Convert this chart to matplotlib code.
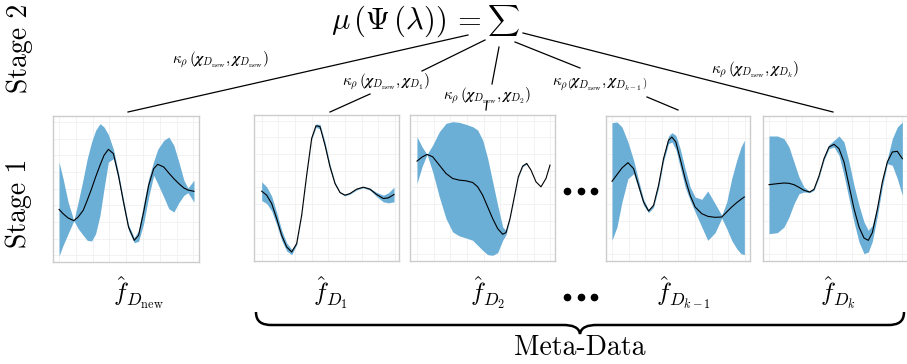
import matplotlib
matplotlib.use("Agg")
import matplotlib.pyplot as plt
from matplotlib.path import Path
from matplotlib.patches import PathPatch

plt.rcParams['mathtext.fontset'] = 'cm'

# ---------------- data ----------------
# Panel f_D_new
x_new = [28, 40, 55, 72, 85, 100, 112, 125, 137, 150, 162, 175, 190, 205, 220, 235, 252, 265, 280, 295, 310, 322, 340, 355, 370, 385, 400, 412, 430]
mean_new = [158, 145, 132, 124, 135, 155, 185, 220, 255, 290, 320, 338, 325, 260, 180, 105, 65, 80, 150, 230, 280, 293, 285, 267, 250, 235, 222, 216, 212]
upper_new = [300, 250, 180, 124, 180, 250, 310, 360, 395, 415, 405, 382, 338, 268, 188, 112, 73, 95, 175, 250, 302, 338, 365, 375, 350, 300, 245, 222, 245]
lower_new = [18, 50, 85, 124, 100, 80, 65, 63, 85, 140, 220, 300, 310, 245, 165, 95, 58, 62, 115, 195, 260, 235, 195, 160, 150, 178, 200, 208, 180]

# Panel f_D1
x_d1 = [35, 50, 65, 80, 95, 110, 125, 140, 155, 170, 185, 198, 210, 225, 240, 255, 270, 285, 300, 320, 340, 360, 380, 400, 415, 432]
mean_d1 = [209, 197, 172, 127, 77, 42, 27, 52, 137, 257, 367, 405, 402, 347, 282, 232, 205, 197, 202, 215, 221, 215, 199, 187, 189, 199]
upper_d1 = [237, 222, 194, 145, 92, 54, 35, 55, 139, 259, 370, 410, 409, 356, 289, 236, 207, 199, 204, 217, 223, 218, 205, 197, 204, 221]
lower_d1 = [181, 172, 150, 109, 62, 30, 19, 49, 135, 255, 364, 400, 395, 338, 275, 228, 203, 195, 200, 213, 219, 212, 193, 177, 174, 177]

# Panel f_D2
x_d2 = [33, 48, 63, 80, 100, 120, 140, 160, 180, 200, 215, 230, 245, 260, 275, 290, 300, 312, 325, 337, 350, 362, 375, 390, 405, 420, 432]
mean_d2 = [299, 311, 319, 312, 287, 262, 247, 242, 240, 235, 222, 197, 162, 127, 97, 80, 85, 127, 192, 252, 284, 292, 272, 237, 222, 247, 287]
upper_d2 = [372, 342, 319, 347, 387, 412, 417, 415, 409, 402, 392, 362, 307, 237, 167, 102, 91, 129, 194, 254, 286, 294, 272, 237, 222, 247, 287]
lower_d2 = [232, 282, 319, 267, 192, 127, 87, 75, 69, 62, 47, 32, 19, 17, 25, 62, 79, 125, 190, 250, 282, 290, 272, 237, 222, 247, 287]

# Panel f_D(k-1)
x_dk1 = [30, 45, 60, 78, 95, 110, 125, 140, 155, 170, 185, 200, 210, 222, 235, 250, 265, 280, 300, 318, 340, 360, 375, 390, 405, 418, 428]
mean_dk1 = [239, 259, 279, 295, 277, 227, 177, 150, 167, 227, 307, 362, 372, 357, 307, 247, 197, 162, 142, 134, 131, 132, 147, 162, 175, 185, 192]
upper_dk1 = [415, 417, 402, 357, 302, 242, 185, 154, 172, 237, 317, 375, 385, 377, 337, 277, 222, 192, 185, 210, 172, 137, 177, 247, 302, 342, 362]
lower_dk1 = [62, 102, 177, 247, 262, 215, 167, 145, 161, 219, 299, 352, 357, 335, 282, 222, 182, 147, 102, 62, 85, 129, 97, 62, 37, 22, 19]

# Panel f_Dk
x_dk = [50, 75, 95, 110, 125, 140, 155, 172, 185, 200, 215, 230, 245, 260, 275, 290, 305, 320, 335, 348, 360, 375, 390, 405, 420, 435, 450]
mean_dk = [229, 232, 234, 233, 229, 221, 212, 207, 215, 255, 307, 342, 350, 337, 297, 227, 157, 102, 69, 62, 85, 155, 237, 297, 327, 329, 307]
upper_dk = [375, 375, 367, 342, 297, 252, 222, 209, 219, 259, 312, 349, 362, 375, 357, 297, 227, 167, 117, 92, 107, 167, 247, 307, 367, 402, 417]
lower_dk = [82, 85, 102, 132, 172, 202, 207, 205, 212, 251, 302, 337, 342, 317, 257, 187, 117, 57, 22, 27, 59, 135, 222, 292, 287, 247, 197]

panel_labels = [r'$\hat{f}_{D_{\mathrm{new}}}$', r'$\hat{f}_{D_1}$', r'$\hat{f}_{D_2}$',
                r'$\hat{f}_{D_{k-1}}$', r'$\hat{f}_{D_k}$']
kernel_labels = [r'$\kappa_\rho\,(\boldsymbol{\chi}_{D_{\mathrm{new}}},\boldsymbol{\chi}_{D_{\mathrm{new}}})$',
                 r'$\kappa_\rho\,(\boldsymbol{\chi}_{D_{\mathrm{new}}},\boldsymbol{\chi}_{D_1})$',
                 r'$\kappa_\rho\,(\boldsymbol{\chi}_{D_{\mathrm{new}}},\boldsymbol{\chi}_{D_2})$',
                 r'$\kappa_\rho\left(\boldsymbol{\chi}_{D_{\mathrm{new}}},\boldsymbol{\chi}_{D_{k-1}}\right)$',
                 r'$\kappa_\rho\,(\boldsymbol{\chi}_{D_{\mathrm{new}}},\boldsymbol{\chi}_{D_k})$']

# ---------------- figure ----------------
W, H = 907, 364
fig = plt.figure(figsize=(W / 100, H / 100), dpi=100)

ov = fig.add_axes([0, 0, 1, 1])
ov.set_xlim(0, W)
ov.set_ylim(H, 0)
ov.axis('off')

BLUE = '#6baed6'

panels = [
    (x_new, mean_new, upper_new, lower_new, (53, 116, 146, 146), (10, 445), (0, 438), 28),
    (x_d1, mean_d1, upper_d1, lower_d1, (254, 115, 145, 146), (12, 447), (0, 437), 35),
    (x_d2, mean_d2, upper_d2, lower_d2, (410, 115, 145, 146), (12, 447), (0, 437), 33),
    (x_dk1, mean_dk1, upper_dk1, lower_dk1, (606, 116, 144, 145), (12, 445), (0, 435), 30),
    (x_dk, mean_dk, upper_dk, lower_dk, (763, 116, 145, 145), (32, 467), (0, 435), 50),
]

for xs, m, up, lo, (px, py, pw, ph), xl, yl, x0 in panels:
    ax = fig.add_axes([px / W, 1 - (py + ph) / H, pw / W, ph / H])
    ax.fill_between(xs, lo, up, color=BLUE, lw=0, zorder=2)
    ax.plot(xs, m, color='black', lw=0.8, zorder=3)
    ax.set_xlim(*xl)
    ax.set_ylim(*yl)
    ax.set_xticks([x0 + 50 * i for i in range(9)])
    ax.set_yticks([20 + 50 * i for i in range(9)])
    ax.tick_params(length=0, labelbottom=False, labelleft=False)
    ax.grid(True, color='#f0f0f0', lw=0.6, zorder=0)
    for s in ax.spines.values():
        s.set_color('#cccccc')
        s.set_linewidth(1.0)

# tree lines
segs = [((468, 35), (128, 112)),
        ((485, 40), (422, 71)), ((370, 94), (330, 112)),
        ((499, 47), (492, 84)), ((487, 101), (486, 110)),
        ((515, 42), (580, 68)), ((647, 97), (678, 110)),
        ((523, 33), (833, 112))]
for (xa, ya), (xb, yb) in segs:
    ov.plot([xa, xb], [ya, yb], color='black', lw=0.9)

# main formula
ov.text(481, 21, r'$\mu\,(\Psi\,(\boldsymbol{\lambda}))\, =$', fontsize=22,
        ha='right', va='center')
ov.text(503, 21, r'$\sum$', fontsize=16, ha='center', va='center')

# kernel labels
kpos = [(221, 60), (386, 82), (487, 96), (600, 85), (755, 70)]
for (kx, ky), lab in zip(kpos, kernel_labels):
    ov.text(kx, ky, lab, fontsize=11, ha='center', va='center')

# stage labels
ov.text(20, 48, 'Stage 2', family='cmr10', fontsize=20, rotation=90, ha='center', va='center')
ov.text(19, 203, 'Stage 1', family='cmr10', fontsize=20, rotation=90, ha='center', va='center')

# f-hat labels
fpos = [(138, 293), (330, 293), (488, 293), (684, 293), (838, 293)]
for (fx, fy), lab in zip(fpos, panel_labels):
    ov.text(fx, fy, lab, fontsize=18, ha='center', va='center')

# dots
for dx in (567, 581, 594):
    ov.plot(dx, 191, 'o', color='black', ms=4.5)
    ov.plot(dx, 297, 'o', color='black', ms=4.5)

# brace
verts = [(256, 312), (256, 322), (262, 325), (272, 325), (563, 325),
         (572, 325), (579, 327), (580, 334),
         (581, 327), (588, 325), (597, 325), (888, 325),
         (898, 325), (904, 322), (904, 312)]
codes = [Path.MOVETO, Path.CURVE4, Path.CURVE4, Path.CURVE4, Path.LINETO,
         Path.CURVE4, Path.CURVE4, Path.CURVE4,
         Path.CURVE4, Path.CURVE4, Path.CURVE4, Path.LINETO,
         Path.CURVE4, Path.CURVE4, Path.CURVE4]
ov.add_patch(PathPatch(Path(verts, codes), fill=False, lw=1.8, color='black'))

ov.text(580, 348, 'Meta-Data', family='cmr10', fontsize=20, ha='center', va='center')

fig.savefig('out.png', dpi=100)
